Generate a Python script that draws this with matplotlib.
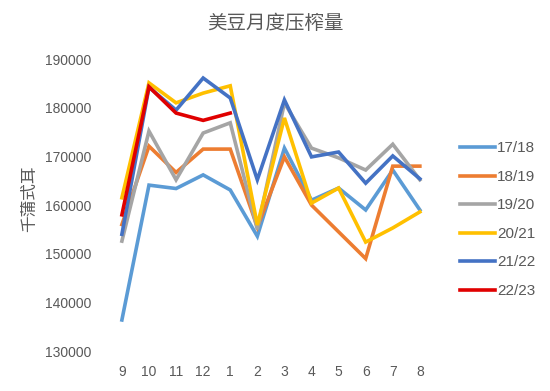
import matplotlib
matplotlib.use("Agg")
import matplotlib.pyplot as plt

plt.rcParams['font.family'] = ['Noto Sans CJK SC', 'DejaVu Sans']

months = ['9', '10', '11', '12', '1', '2', '3', '4', '5', '6', '7', '8']

s1718 = [136400, 164100, 163400, 166200, 163100, 153600, 171700, 161000, 163500, 159000, 167200, 159000]
s1819 = [156000, 172100, 166700, 171500, 171500, 155500, 169900, 160000, 154500, 149000, 168000, 168000]
s1920 = [152600, 175200, 165200, 174800, 176900, 155000, 181000, 171700, 169700, 167200, 172500, 165200]
s2021 = [161500, 185100, 181000, 183000, 184500, 155900, 177900, 160400, 163500, 152400, 155300, 158600]
s2122 = [154000, 184200, 179500, 186100, 182000, 165200, 181600, 169900, 170900, 164500, 170100, 165400]
s2223 = [158000, 184300, 178900, 177400, 178900]

series = [
    ('17/18', s1718, '#5B9BD5'),
    ('18/19', s1819, '#ED7D31'),
    ('19/20', s1920, '#A5A5A5'),
    ('20/21', s2021, '#FFC000'),
    ('21/22', s2122, '#4472C4'),
    ('22/23', s2223, '#E00000'),
]

fig = plt.figure(figsize=(5.5, 3.91), dpi=100)
ax = fig.add_axes([0.197, 0.102, 0.591, 0.747])

for name, vals, col in series:
    ax.plot(range(len(vals)), vals, color=col, lw=2.6, label=name,
            solid_joinstyle='miter')

ax.set_xlim(-0.5, len(months) - 0.5)
ax.set_ylim(130000, 190000)
ax.set_xticks(range(len(months)))
ax.set_xticklabels(months)
ax.set_yticks(range(130000, 190001, 10000))
for sp in ax.spines.values():
    sp.set_visible(False)
ax.tick_params(length=0, colors='#595959', labelsize=10)
ax.tick_params(axis='x', pad=10)
ax.tick_params(axis='y', pad=12)
for t in ax.get_xticklabels() + ax.get_yticklabels():
    t.set_family(['Liberation Sans', 'DejaVu Sans'])

ax.set_ylabel('千蒲式耳', color='#595959', fontsize=12, fontweight='light')
ax.yaxis.set_label_coords(-0.215, 0.52)
fig.text(0.5, 0.94, '美豆月度压榨量', ha='center', va='center',
         fontsize=14, color='#595959', fontweight='light')

leg = ax.legend(loc='center left', bbox_to_anchor=(1.04, 0.45), frameon=False,
                handlelength=2.3, handletextpad=0.1, labelspacing=0.95,
                prop={'family': ['Liberation Sans', 'DejaVu Sans'], 'size': 11})
for t in leg.get_texts():
    t.set_color('#595959')

fig.savefig('out.png')
